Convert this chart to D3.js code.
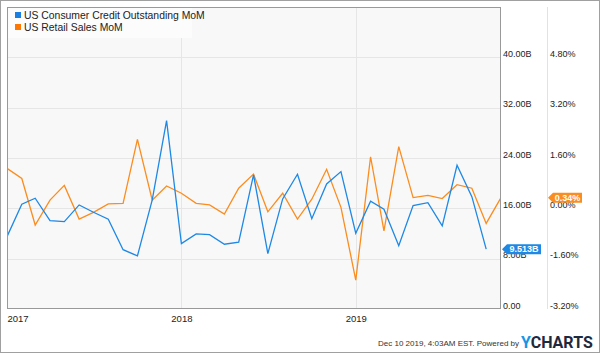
<!DOCTYPE html>
<html>
<head>
<meta charset="utf-8">
<script src="https://cdn.jsdelivr.net/npm/d3@7"></script>
<style>
  body { margin: 0; background: #fff; }
  svg { display: block; font-family: "Liberation Sans", Arial, sans-serif; }
</style>
</head>
<body>
<div id="container"></div>
<script>
const WIDTH = 600;
const HEIGHT = 353;
const PLOT_LEFT = 7;
const PLOT_RIGHT = 501;
const PLOT_TOP = 7;
const PLOT_BOTTOM = 309;

// monthly dates, Jan 2017 .. Nov 2019
var months = ["2017-01","2017-02","2017-03","2017-04","2017-05","2017-06","2017-07","2017-08","2017-09","2017-10","2017-11","2017-12",
    "2018-01","2018-02","2018-03","2018-04","2018-05","2018-06","2018-07","2018-08","2018-09","2018-10","2018-11","2018-12",
    "2019-01","2019-02","2019-03","2019-04","2019-05","2019-06","2019-07","2019-08","2019-09","2019-10","2019-11"];

// US Consumer Credit Outstanding MoM (billions), ends Oct 2019
var creditValues = [11.50, 16.65, 17.61, 14.04, 13.88, 16.54, 15.38, 14.27, 9.43, 8.43, 17.34, 29.95,
    10.39, 11.93, 11.82, 10.29, 10.61, 21.31, 8.80, 17.50, 21.42, 14.36, 19.88, 21.84,
    12.04, 17.13, 15.86, 10.07, 16.43, 16.91, 13.20, 22.85, 17.86, 9.513];

// US Retail Sales MoM (%), ends Nov 2019
var retailValues = [1.27, 0.95, -0.53, 0.26, 0.73, -0.34, -0.13, 0.14, 0.16, 2.19, 0.26, 0.71,
    0.48, 0.16, 0.11, -0.18, 0.64, 1.09, -0.11, 0.48, -0.34, 0.29, 1.24, 0.03,
    -2.28, 1.64, -0.72, 1.96, 0.34, 0.41, 0.31, 0.75, 0.64, -0.48, 0.34];

var leftTicks = [0, 8, 16, 24, 32, 40];
var rightTicks = [-3.2, -1.6, 0, 1.6, 3.2, 4.8];
var yearTicks = ["2017-01", "2018-01", "2019-01"];

var seriesNames = ["US Consumer Credit Outstanding MoM", "US Retail Sales MoM"];
var BLUE = "#1e88e5";
var ORANGE = "#fb8c1e";

var parseMonth = d3.timeParse("%Y-%m");

var createChart = function () {
    var svg = d3.select("#container").append("svg")
        .attr("width", WIDTH)
        .attr("height", HEIGHT);

    var xScale = d3.scaleTime()
        .domain([parseMonth("2017-01"), parseMonth("2019-11")])
        .range([PLOT_LEFT, PLOT_RIGHT]);
    var yLeft = d3.scaleLinear().domain([0, 48]).range([PLOT_BOTTOM, PLOT_TOP]);
    var yRight = d3.scaleLinear().domain([-3.2, 6.4]).range([PLOT_BOTTOM, PLOT_TOP]);

    // outer frame
    svg.append("rect")
        .attr("x", 0.5).attr("y", 0.5)
        .attr("width", WIDTH - 1).attr("height", HEIGHT - 1)
        .attr("fill", "#fff").attr("stroke", "#a0a0a0");

    // plot background
    svg.append("rect")
        .attr("x", PLOT_LEFT).attr("y", PLOT_TOP)
        .attr("width", PLOT_RIGHT - PLOT_LEFT).attr("height", PLOT_BOTTOM - PLOT_TOP)
        .attr("fill", "#f8f8f8");

    // horizontal grid
    svg.append("g").selectAll("line").data(leftTicks.slice(1))
        .enter().append("line")
        .attr("x1", PLOT_LEFT).attr("x2", PLOT_RIGHT)
        .attr("y1", function (d) { return Math.round(yLeft(d)) + 0.5; })
        .attr("y2", function (d) { return Math.round(yLeft(d)) + 0.5; })
        .attr("stroke", "#e6e6e6");

    // vertical grid at years
    svg.append("g").selectAll("line").data(yearTicks.slice(1))
        .enter().append("line")
        .attr("x1", function (d) { return Math.round(xScale(parseMonth(d))) + 0.5; })
        .attr("x2", function (d) { return Math.round(xScale(parseMonth(d))) + 0.5; })
        .attr("y1", PLOT_TOP).attr("y2", PLOT_BOTTOM)
        .attr("stroke", "#e6e6e6");

    // separator between the two right axes
    svg.append("line")
        .attr("x1", 547.5).attr("x2", 547.5)
        .attr("y1", PLOT_TOP).attr("y2", PLOT_BOTTOM)
        .attr("stroke", "#e2e2e2");

    svg.append("defs").append("clipPath").attr("id", "plotClip")
        .append("rect")
        .attr("x", PLOT_LEFT).attr("y", PLOT_TOP)
        .attr("width", PLOT_RIGHT - PLOT_LEFT).attr("height", PLOT_BOTTOM - PLOT_TOP);

    var creditData = creditValues.map(function (v, i) { return {date: parseMonth(months[i]), value: v}; });
    var retailData = retailValues.map(function (v, i) { return {date: parseMonth(months[i]), value: v}; });

    var creditLine = d3.line()
        .x(function (d) { return xScale(d.date); })
        .y(function (d) { return yLeft(d.value); });
    var retailLine = d3.line()
        .x(function (d) { return xScale(d.date); })
        .y(function (d) { return yRight(d.value); });

    var lines = svg.append("g").attr("clip-path", "url(#plotClip)");
    lines.append("path")
        .attr("d", retailLine(retailData))
        .attr("fill", "none").attr("stroke", ORANGE).attr("stroke-width", 1.3);
    lines.append("path")
        .attr("d", creditLine(creditData))
        .attr("fill", "none").attr("stroke", BLUE).attr("stroke-width", 1.3);

    // plot border
    svg.append("rect")
        .attr("x", PLOT_LEFT + 0.5).attr("y", PLOT_TOP + 0.5)
        .attr("width", PLOT_RIGHT - PLOT_LEFT - 1).attr("height", PLOT_BOTTOM - PLOT_TOP - 1)
        .attr("fill", "none").attr("stroke", "#999");

    // legend
    var legend = svg.append("g");
    legend.append("rect")
        .attr("x", PLOT_LEFT + 1).attr("y", PLOT_TOP + 1)
        .attr("width", 184).attr("height", 30)
        .attr("fill", "#fcfcfc");
    var items = legend.selectAll("g.item").data(seriesNames)
        .enter().append("g")
        .attr("transform", function (d, i) { return translate(15, 12 + i * 12); });
    items.append("rect")
        .attr("width", 6).attr("height", 6)
        .attr("fill", function (d, i) { return i === 0 ? "#1a7fe0" : "#ff7700"; });
    items.append("text")
        .attr("x", 9).attr("y", 6.5)
        .attr("font-size", "10.4px").attr("fill", "#222")
        .text(function (d) { return d; });

    // right axes
    var leftAxis = d3.axisRight(yLeft)
        .tickValues(leftTicks)
        .tickSize(0).tickPadding(0)
        .tickFormat(function (d) { return d === 0 ? "0.00" : d.toFixed(2) + "B"; });
    var gL = svg.append("g").attr("transform", translate(503, 0)).call(leftAxis);
    gL.select(".domain").remove();
    gL.selectAll("text").attr("dy", "-0.1em").attr("font-size", "9px")
        .attr("font-family", "Liberation Sans, Arial, sans-serif").attr("fill", "#222");

    var rightAxis = d3.axisRight(yRight)
        .tickValues(rightTicks)
        .tickSize(0).tickPadding(0)
        .tickFormat(function (d) { return d.toFixed(2) + "%"; });
    var gR = svg.append("g").attr("transform", translate(550, 0)).call(rightAxis);
    gR.select(".domain").remove();
    gR.selectAll("text").attr("dy", "-0.1em").attr("font-size", "9px")
        .attr("font-family", "Liberation Sans, Arial, sans-serif").attr("fill", "#222");

    // x axis
    var xAxis = d3.axisBottom(xScale)
        .tickValues(yearTicks.map(parseMonth))
        .tickSize(0).tickPadding(0)
        .tickFormat(d3.timeFormat("%Y"));
    var gX = svg.append("g").attr("transform", translate(0, 315)).call(xAxis);
    gX.select(".domain").remove();
    gX.selectAll("text").attr("font-size", "9.5px")
        .attr("font-family", "Liberation Sans, Arial, sans-serif").attr("fill", "#222");
    gX.select(".tick text").attr("text-anchor", "start");

    // last value flags
    var lastCredit = creditData[creditData.length - 1];
    var lastRetail = retailData[retailData.length - 1];
    drawFlag(svg, 502, yLeft(lastCredit.value), 39, BLUE, lastCredit.value.toFixed(3) + "B");
    drawFlag(svg, 548, yRight(lastRetail.value), 34, ORANGE, lastRetail.value.toFixed(2) + "%");

    // footer
    svg.append("text")
        .attr("x", 519).attr("y", 346)
        .attr("text-anchor", "end")
        .attr("font-size", "8px").attr("fill", "#333")
        .text("Dec 10 2019, 4:03AM EST.  Powered by");
    var logo = svg.append("text")
        .attr("x", 521).attr("y", 348)
        .attr("font-size", "16px").attr("font-weight", "bold")
        .attr("font-family", "Roboto, Liberation Sans, Arial, sans-serif");
    logo.append("tspan").attr("fill", "#1597e5").text("Y");
    logo.append("tspan").attr("fill", "#1d2a3d").text("CHARTS");
};

var drawFlag = function (svg, x0, cy, w, color, label) {
    var h = 5;
    var path = d3.path();
    path.moveTo(x0, cy);
    path.lineTo(x0 + 5, cy - h);
    path.lineTo(x0 + w, cy - h);
    path.lineTo(x0 + w, cy + h);
    path.lineTo(x0 + 5, cy + h);
    path.closePath();
    svg.append("path").attr("d", path.toString()).attr("fill", color);
    svg.append("text")
        .attr("x", x0 + 5 + (w - 5) / 2).attr("y", cy + 3.3)
        .attr("text-anchor", "middle")
        .attr("font-size", "9px").attr("font-weight", "bold").attr("fill", "#fff")
        .text(label);
};

var translate = function (x, y) {
    return "translate(" + x + "," + y + ")";
};

window.onload = createChart;
</script>
</body>
</html>
